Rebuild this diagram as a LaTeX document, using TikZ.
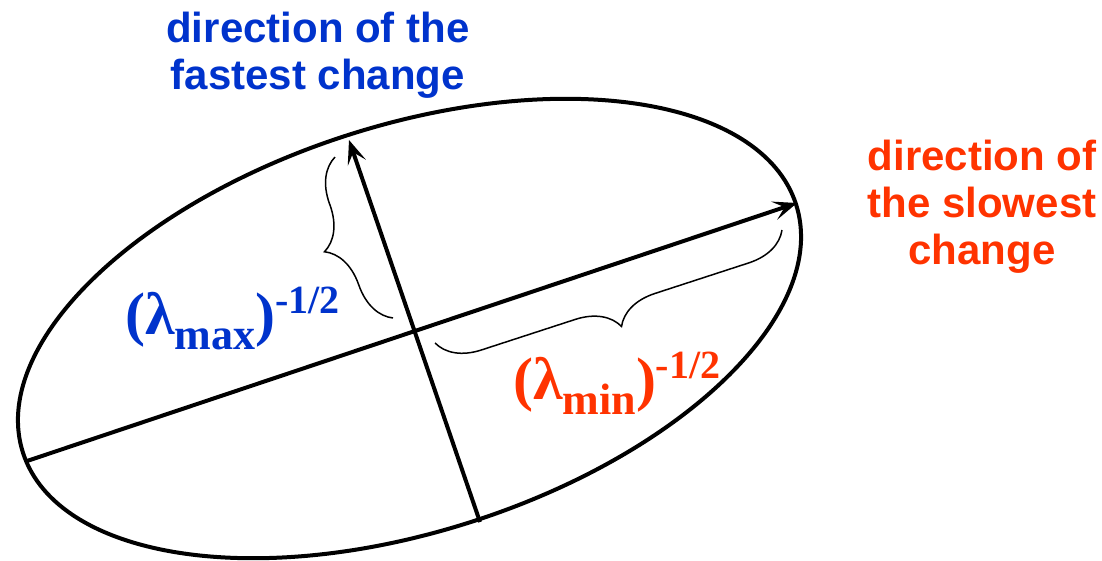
\documentclass[tikz,border=0pt]{standalone}
\usepackage{fontspec}
\setmainfont{Liberation Sans}
\newfontfamily\lamfont{Liberation Serif}
\usetikzlibrary{arrows.meta,decorations.pathreplacing}
\definecolor{tblue}{RGB}{0,51,204}
\definecolor{torange}{RGB}{255,51,0}
\newcommand\lamlabel[1]{{\lamfont\bfseries\fontsize{60}{60}\selectfont(λ\raisebox{-15pt}{\fontsize{44}{44}\selectfont #1})\raisebox{21pt}{\fontsize{40}{40}\selectfont -1/2}}}
\tikzset{
  axisline/.style={line width=4pt, line cap=butt},
  tip/.style={-{Stealth[length=24pt,width=19pt,inset=11pt]}},
  bracepath/.style={line width=1.5pt, decorate, decoration={brace, amplitude=42pt}},
  titletext/.style={align=center, inner sep=0pt, font=\bfseries\fontsize{42}{47}\selectfont},
  lamtext/.style={anchor=base west, inner sep=0pt},
}
\begin{document}
\begin{tikzpicture}[x=1pt,y=-1pt]
\useasboundingbox (0,0) rectangle (1102,560);
% ellipse
\draw[line width=4pt] (409.5,328.5) ellipse [x radius=406pt, y radius=203pt, rotate=17.8];
% axes
\coordinate (majL) at (27,461);
\coordinate (majR) at (797,203);
\coordinate (minB) at (480,522);
\coordinate (minT) at (349,140);
\draw[axisline, tip] (majL) -- (majR);
\draw[axisline, tip] (minB) -- (minT);
% braces
\coordinate (bb1) at (393,318);
\coordinate (bb2) at (335,157);
\draw[bracepath] (bb1) -- (bb2);
\coordinate (ob1) at (782,230);
\coordinate (ob2) at (435,343);
\draw[bracepath] (ob1) -- (ob2);
% labels
\node[lamtext, text=tblue] (lmax) at (125,334) {\lamlabel{max}};
\node[lamtext, text=torange] (lmin) at (513,399) {\lamlabel{min}};
\node[titletext, text=tblue, anchor=north] (fast) at (318,12) {direction of the\\fastest change};
\node[titletext, text=torange, anchor=north] (slow) at (982,140) {direction of\\the slowest\\change};
\end{tikzpicture}
\end{document}
